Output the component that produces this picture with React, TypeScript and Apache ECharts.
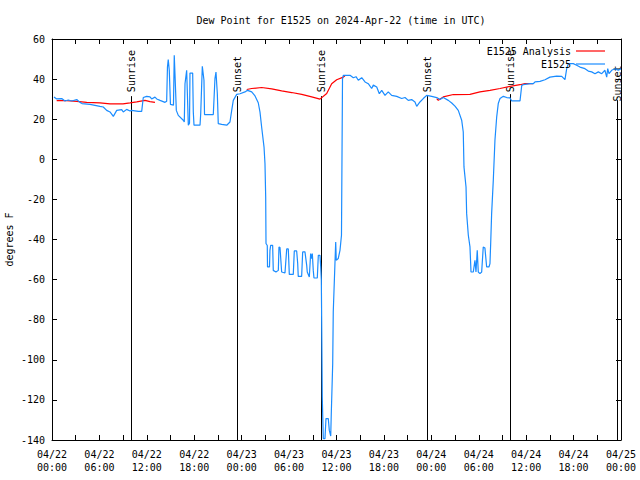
import React, { useEffect, useRef } from "react";
import * as echarts from "echarts";

const titleText = "Dew Point for E1525 on 2024-Apr-22 (time in UTC)";
const yAxisName = "degrees F";

// hours since 2024-04-22 00:00 UTC
const blueHours = [
  0.25, 0.59, 1.23, 1.64, 2.06, 2.49, 3.13, 3.54, 3.8, 4.81, 6.07, 6.49, 6.92, 7.34, 7.76, 8.19, 8.82, 9.02, 9.45, 9.87,
  10.08, 10.92, 11.35, 11.55, 11.98, 12.4, 12.61, 13.03, 13.25, 13.67, 14.3, 14.51, 14.61, 14.71, 14.84, 14.99, 15.37,
  15.47, 15.56, 15.73, 15.98, 16.61, 16.74, 16.83, 17.04, 17.25, 17.4, 17.46, 17.8, 17.88, 17.97, 18.73, 18.82, 19.02,
  19.23, 19.3, 20.41, 20.62, 20.75, 20.92, 21.04, 21.47, 22.11, 22.52, 22.74, 22.94, 23.37, 23.79, 24.42, 24.74, 25.27,
  25.69, 26.1, 26.32, 26.53, 26.83, 26.95, 27.04, 27.08, 27.24, 27.27, 27.52, 27.58, 27.67, 27.92, 28.0, 28.34, 28.64,
  28.72, 28.85, 29.06, 29.48, 29.7, 29.9, 30.03, 30.53, 30.66, 30.96, 31.09, 31.16, 31.59, 31.72, 32.01, 32.23, 32.3,
  32.56, 32.73, 32.86, 32.94, 33.06, 33.15, 33.57, 33.7, 33.91, 34.0, 34.08, 34.12, 34.2, 34.33, 34.54, 34.67, 34.96,
  35.09, 35.27, 35.34, 35.52, 35.59, 35.81, 35.9, 35.97, 36.22, 36.44, 36.63, 36.76, 36.86, 37.29, 37.71, 38.13, 38.47,
  38.76, 39.19, 39.61, 40.02, 40.45, 40.66, 41.09, 41.42, 41.72, 42.14, 42.55, 42.98, 43.62, 44.25, 44.67, 45.08, 45.51,
  45.93, 46.15, 46.56, 46.98, 47.41, 48.05, 48.68, 49.1, 49.51, 50.15, 50.58, 50.99, 51.41, 51.84, 52.04, 52.13, 52.39,
  52.47, 52.68, 52.89, 53.02, 53.31, 53.52, 53.65, 53.81, 53.94, 54.15, 54.37, 54.57, 54.78, 55.0, 55.29, 55.42, 55.51,
  55.63, 55.84, 56.05, 56.27, 56.47, 56.69, 57.11, 57.54, 57.96, 58.17, 59.22, 59.44, 59.64, 60.49, 60.9, 61.12, 61.75,
  62.38, 63.01, 63.86, 64.5, 64.91, 65.13, 65.33, 65.96, 66.39, 66.81, 67.44, 67.86, 68.29, 68.71, 69.13, 69.56, 69.97,
  70.19, 70.32, 70.48, 70.82, 71.24, 71.66, 72.0,
];
const blueValues = [
  31.1, 30.1, 30.3, 29.1, 29.6, 29.1, 29.8, 28.4, 27.8, 27.4, 26.4, 26.1, 24.4, 23.6, 21.4, 24.4, 24.8, 23.6, 24.9, 24.1,
  24.4, 23.9, 23.9, 30.8, 31.4, 31.1, 30.1, 31.0, 30.1, 29.4, 28.4, 29.0, 46.0, 49.7, 44.4, 27.4, 27.0,
  51.9, 42.7, 24.4, 21.9, 19.5, 18.6, 37.7, 44.4, 17.0, 18.0, 43.0, 43.0, 23.6, 17.0, 17.0, 23.0, 46.4,
  39.4, 22.3, 22.3, 40.2, 43.5, 32.7, 17.8, 17.4, 17.0, 18.6, 24.4, 29.4, 32.4, 32.7, 33.6, 34.4, 33.6,
  31.6, 28.2, 23.5, 16.0, 6.1, -2.1, -18.8, -42.0, -43.0, -53.7, -53.7, -45.4, -42.9, -42.9, -55.4, -56.2, -55.4,
  -43.7, -44.0, -56.2, -56.7, -44.7, -44.7, -57.4, -57.4, -45.7, -45.7, -52.0, -58.4, -58.4, -46.2, -46.2, -52.9, -56.2,
  -58.7, -47.0, -49.5, -47.0, -55.4, -59.2, -59.2, -47.9, -47.9, -53.4, -60.0, -78.6, -118.5, -139.3, -139.3, -129.3, -129.3,
  -135.2, -138.0, -126.8, -101.9, -76.2, -51.2, -41.2, -50.4, -49.5, -45.4, -37.9, 40.0, 41.9, 41.9, 41.9, 40.7, 41.2,
  39.4, 40.7, 38.6, 37.7, 35.3, 37.0, 36.1, 32.7, 34.4, 31.9, 33.6, 31.9, 31.4, 30.3, 30.8, 29.4, 29.8,
  28.6, 26.4, 28.6, 30.3, 31.9, 31.4, 30.8, 29.8, 30.8, 29.4, 28.1, 26.5, 24.4, 19.5, 13.6, -3.8, -13.8,
  -27.1, -37.9, -43.7, -56.2, -56.2, -50.4, -56.2, -45.4, -56.2, -57.0, -56.2, -43.7, -44.2, -53.7, -53.7, -52.0, -42.0,
  -27.1, -10.5, 9.5, 21.1, 27.8, 30.3, 31.4, 30.8, 30.6, 29.1, 29.1, 36.9, 37.2, 37.7, 37.7, 38.6, 38.9,
  39.7, 41.0, 41.5, 41.4, 39.7, 45.2, 47.7, 47.7, 46.9, 46.0, 45.2, 44.0, 43.6, 42.7, 43.6, 42.7, 44.4,
  41.0, 45.2, 42.7, 44.4, 45.2, 44.4, 45.2,
];

const redHours = [
  0.59, 1.86, 3.13, 4.39, 6.07, 7.34, 8.98, 9.87, 10.72, 11.77, 12.4, 13.03,
  18.0,
  24.64, 25.27, 26.53, 27.8, 29.06, 30.33, 31.6, 32.86, 33.91, 34.76, 35.39, 36.02, 36.86, 37.07,
  43.0,
  48.68, 48.88, 49.51, 50.78, 52.89, 54.15, 55.42, 56.69, 57.96, 59.22, 59.85, 60.86,
];
const redValues: (number | null)[] = [
  29.3, 29.3, 28.9, 28.4, 28.1, 27.6, 27.6, 28.1, 28.6, 29.4, 28.8, 28.4,
  null,
  34.8, 35.3, 35.8, 35.1, 34.1, 33.3, 32.4, 31.1, 30.0, 32.8, 37.7, 39.7, 41.0, 41.5,
  null,
  30.3, 29.4, 31.1, 32.3, 32.4, 33.6, 34.4, 35.3, 36.4, 37.2, 37.7, 37.7,
];

const eventHours = [10.0, 23.45, 34.0, 47.5, 58.0, 71.5];
const eventNames = ["Sunrise", "Sunset", "Sunrise", "Sunset", "Sunrise", "Sunset"];
const eventLabelBase = [33.5, 33.5, 33.5, 33.5, 33.5, 28.8];
const eventLineTop = [31.5, 31.5, 31.5, 31.5, 32.5, 29.5];

const FONT = '"DejaVu Sans Mono", "Liberation Mono", monospace';

export default function App() {
  const ref = useRef<HTMLDivElement>(null);
  useEffect(() => {
    if (!ref.current) return;
    const chart = echarts.init(ref.current, null, { renderer: "svg" });
    const pad = (n: number) => (n < 10 ? "0" + n : "" + n);
    const xFmt = (v: number) => {
      const d = Math.floor(v / 24);
      const hh = Math.round(v - d * 24);
      return `04/${22 + d}\n${pad(hh)}:00`;
    };
    const axisCommon = {
      axisLine: { show: true, onZero: false, lineStyle: { color: "#000", width: 1 } },
      axisTick: { show: true, inside: true, length: 5, lineStyle: { color: "#000", width: 1 } },
      splitLine: { show: false },
    };
    const option: any = {
      animation: false,
      backgroundColor: "#fff",
      title: {
        text: titleText,
        left: 336,
        top: 10,
        textAlign: "center",
        textStyle: { fontFamily: FONT, fontSize: 10, fontWeight: "normal", color: "#000" },
      },
      legend: {
        data: ["E1525 Analysis", "E1525"],
        orient: "vertical",
        right: 30,
        top: 40,
        align: "right",
        icon: "rect",
        itemWidth: 29,
        itemHeight: 1.2,
        itemGap: 1,
        textStyle: { fontFamily: FONT, fontSize: 10, color: "#000", lineHeight: 12 },
      },
      grid: { left: 52, right: 19, top: 39, bottom: 40, outerBoundsMode: "none", containLabel: false },
      xAxis: [
        {
          type: "value",
          min: 0,
          max: 72,
          interval: 6,
          ...axisCommon,
          minorTick: { show: true, splitNumber: 2, length: 5, lineStyle: { color: "#000", width: 1 } },
          axisLabel: {
            formatter: xFmt,
            fontFamily: FONT,
            fontSize: 10,
            color: "#000",
            lineHeight: 13,
            margin: 8,
            showMinLabel: true,
            showMaxLabel: true,
          },
        },
        {
          type: "value",
          position: "top",
          min: 0,
          max: 72,
          interval: 6,
          ...axisCommon,
          minorTick: { show: true, splitNumber: 2, length: 5, lineStyle: { color: "#000", width: 1 } },
          axisLabel: { show: false },
        },
      ],
      yAxis: [
        {
          type: "value",
          min: -140,
          max: 60,
          interval: 20,
          ...axisCommon,
          name: yAxisName,
          nameLocation: "middle",
          nameGap: 38,
          nameMoveOverlap: false,
          nameTextStyle: { fontFamily: FONT, fontSize: 10, color: "#000" },
          axisLabel: { fontFamily: FONT, fontSize: 10, color: "#000", margin: 7 },
        },
        {
          type: "value",
          position: "right",
          min: -140,
          max: 60,
          interval: 20,
          ...axisCommon,
          axisLabel: { show: false },
        },
      ],
      series: [
        {
          name: "events",
          type: "custom",
          xAxisIndex: 0,
          yAxisIndex: 0,
          clip: false,
          silent: true,
          z: 1,
          data: eventHours.map((h, i) => [h, eventLabelBase[i], eventLineTop[i]]),
          encode: { x: 0, y: 1 },
          renderItem: (params: any, api: any) => {
            const h = api.value(0);
            const base = api.value(1);
            const top = api.value(2);
            const pTop = api.coord([h, top]);
            const pBot = api.coord([h, -140]);
            const pLab = api.coord([h, base]);
            const x = Math.round(pTop[0]) + 0.5;
            return {
              type: "group",
              children: [
                {
                  type: "line",
                  shape: { x1: x, y1: pTop[1], x2: x, y2: pBot[1] },
                  style: { stroke: "#000", lineWidth: 1 },
                },
                {
                  type: "text",
                  x: x,
                  y: pLab[1],
                  rotation: Math.PI / 2,
                  style: {
                    text: eventNames[params.dataIndex],
                    align: "left",
                    verticalAlign: "middle",
                    font: `10px ${FONT}`,
                    fill: "#000",
                  },
                },
              ],
            };
          },
        },
        {
          name: "E1525 Analysis",
          type: "line",
          symbol: "none",
          showSymbol: false,
          connectNulls: false,
          z: 2,
          lineStyle: { color: "#ff0000", width: 1.2 },
          itemStyle: { color: "#ff0000" },
          data: redHours.map((h, i) => [h, redValues[i]]),
        },
        {
          name: "E1525",
          type: "line",
          symbol: "none",
          showSymbol: false,
          z: 3,
          lineStyle: { color: "#1a8cff", width: 1.2 },
          itemStyle: { color: "#1a8cff" },
          data: blueHours.map((h, i) => [h, blueValues[i]]),
        },
      ],
    };
    chart.setOption(option);
    return () => chart.dispose();
  }, []);
  return <div ref={ref} style={{ position: "fixed", left: 0, top: 0, width: 640, height: 480 }} />;
}
